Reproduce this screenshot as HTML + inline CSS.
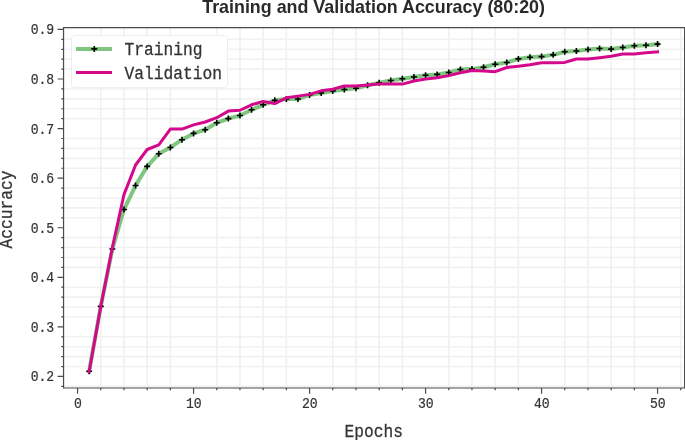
<!DOCTYPE html><html><head><meta charset="utf-8"><style>html,body{margin:0;padding:0;background:#fff;width:685px;height:440px;overflow:hidden}svg{display:block;will-change:transform}.mono{font-family:"Liberation Mono",monospace}.sans{font-family:"Liberation Sans",sans-serif}</style></head><body>
<svg width="685" height="440" viewBox="0 0 685 440">
<rect width="685" height="440" fill="#fff"/>
<path d="M63.55 386.36H684.60M63.55 366.53H684.60M63.55 356.62H684.60M63.55 346.70H684.60M63.55 336.79H684.60M63.55 316.96H684.60M63.55 307.05H684.60M63.55 297.13H684.60M63.55 287.22H684.60M63.55 267.39H684.60M63.55 257.48H684.60M63.55 247.56H684.60M63.55 237.65H684.60M63.55 217.82H684.60M63.55 207.91H684.60M63.55 197.99H684.60M63.55 188.08H684.60M63.55 168.25H684.60M63.55 158.33H684.60M63.55 148.42H684.60M63.55 138.51H684.60M63.55 118.68H684.60M63.55 108.76H684.60M63.55 98.85H684.60M63.55 88.94H684.60M63.55 69.11H684.60M63.55 59.19H684.60M63.55 49.28H684.60M63.55 39.36H684.60M100.77 27.60V388.00M123.97 27.60V388.00M147.17 27.60V388.00M170.37 27.60V388.00M216.77 27.60V388.00M239.97 27.60V388.00M263.17 27.60V388.00M286.37 27.60V388.00M332.77 27.60V388.00M355.97 27.60V388.00M379.17 27.60V388.00M402.37 27.60V388.00M448.77 27.60V388.00M471.97 27.60V388.00M495.17 27.60V388.00M518.37 27.60V388.00M564.77 27.60V388.00M587.97 27.60V388.00M611.17 27.60V388.00M634.37 27.60V388.00M680.77 27.60V388.00" fill="none" stroke="#f1f1f1" stroke-width="1.6"/>
<polyline points="89.17,371.19 100.77,306.40 112.37,248.95 123.97,209.54 135.57,185.55 147.17,166.41 158.77,153.82 170.37,147.48 181.97,139.70 193.57,133.40 205.17,129.68 216.77,122.79 228.37,118.58 239.97,115.51 251.57,109.80 263.17,104.80 274.77,100.34 286.37,99.00 297.97,99.00 309.57,94.98 321.17,93.05 332.77,90.92 344.37,89.43 355.97,88.29 367.57,85.37 379.17,82.69 390.77,80.46 402.37,78.77 413.97,77.04 425.57,75.20 437.17,74.41 448.77,72.48 460.37,69.45 471.97,69.11 483.57,67.22 495.17,64.30 506.77,62.46 518.37,58.90 529.97,57.21 541.57,56.61 553.17,54.83 564.77,51.81 576.37,51.01 587.97,49.48 599.57,48.49 611.17,49.08 622.77,47.49 634.37,45.71 645.97,45.21 657.57,44.12" fill="none" stroke="#80c680" stroke-width="4" stroke-linejoin="round" stroke-linecap="square"/>
<path d="M86.17 371.19h6M89.17 368.19v6M97.77 306.40h6M100.77 303.40v6M109.37 248.95h6M112.37 245.95v6M120.97 209.54h6M123.97 206.54v6M132.57 185.55h6M135.57 182.55v6M144.17 166.41h6M147.17 163.41v6M155.77 153.82h6M158.77 150.82v6M167.37 147.48h6M170.37 144.48v6M178.97 139.70h6M181.97 136.70v6M190.57 133.40h6M193.57 130.40v6M202.17 129.68h6M205.17 126.68v6M213.77 122.79h6M216.77 119.79v6M225.37 118.58h6M228.37 115.58v6M236.97 115.51h6M239.97 112.51v6M248.57 109.80h6M251.57 106.80v6M260.17 104.80h6M263.17 101.80v6M271.77 100.34h6M274.77 97.34v6M283.37 99.00h6M286.37 96.00v6M294.97 99.00h6M297.97 96.00v6M306.57 94.98h6M309.57 91.98v6M318.17 93.05h6M321.17 90.05v6M329.77 90.92h6M332.77 87.92v6M341.37 89.43h6M344.37 86.43v6M352.97 88.29h6M355.97 85.29v6M364.57 85.37h6M367.57 82.37v6M376.17 82.69h6M379.17 79.69v6M387.77 80.46h6M390.77 77.46v6M399.37 78.77h6M402.37 75.77v6M410.97 77.04h6M413.97 74.04v6M422.57 75.20h6M425.57 72.20v6M434.17 74.41h6M437.17 71.41v6M445.77 72.48h6M448.77 69.48v6M457.37 69.45h6M460.37 66.45v6M468.97 69.11h6M471.97 66.11v6M480.57 67.22h6M483.57 64.22v6M492.17 64.30h6M495.17 61.30v6M503.77 62.46h6M506.77 59.46v6M515.37 58.90h6M518.37 55.90v6M526.97 57.21h6M529.97 54.21v6M538.57 56.61h6M541.57 53.61v6M550.17 54.83h6M553.17 51.83v6M561.77 51.81h6M564.77 48.81v6M573.37 51.01h6M576.37 48.01v6M584.97 49.48h6M587.97 46.48v6M596.57 48.49h6M599.57 45.49v6M608.17 49.08h6M611.17 46.08v6M619.77 47.49h6M622.77 44.49v6M631.37 45.71h6M634.37 42.71v6M642.97 45.21h6M645.97 42.21v6M654.57 44.12h6M657.57 41.12v6" stroke="#000" stroke-width="1.6" fill="none"/>
<polyline points="89.17,371.49 100.77,306.55 112.37,247.56 123.97,194.62 135.57,164.98 147.17,149.51 158.77,144.80 170.37,129.09 181.97,129.09 193.57,124.87 205.17,122.00 216.77,117.69 228.37,111.09 239.97,110.25 251.57,104.80 263.17,101.43 274.77,103.56 286.37,97.81 297.97,96.12 309.57,94.39 321.17,90.82 332.77,89.18 344.37,86.01 355.97,86.01 367.57,85.07 379.17,84.08 390.77,84.08 402.37,84.08 413.97,81.00 425.57,79.02 437.17,77.78 448.77,75.60 460.37,72.82 471.97,70.59 483.57,70.89 495.17,71.68 506.77,67.47 518.37,66.23 529.97,64.79 541.57,62.81 553.17,62.86 564.77,62.41 576.37,58.99 587.97,58.99 599.57,57.71 611.17,56.27 622.77,53.99 634.37,53.99 645.97,52.80 657.57,51.81" fill="none" stroke="#d4088a" stroke-width="3" stroke-linejoin="round" stroke-linecap="square"/>
<rect x="71.5" y="35.6" width="156" height="52" rx="3" ry="3" fill="#fff" stroke="#eeeeee" stroke-width="1"/>
<path d="M76 48.9H112" stroke="#80c680" stroke-width="4"/>
<path d="M91.3 48.9h6M94.3 45.9v6" stroke="#000" stroke-width="1.6"/>
<path d="M76 72.5H112" stroke="#d4088a" stroke-width="3"/>
<g class="mono" fill="#333" stroke="#333" stroke-width="0.25" font-size="16.25px">
<text transform="translate(124.6,55.3) scale(1,1.08)">Training</text>
<text transform="translate(124.6,79.0) scale(1,1.08)">Validation</text>
</g>
<path d="M63.55 27.60V388.00H684.60V27.60Z" fill="none" stroke="#4a4a4a" stroke-width="1.2"/>
<path d="M61.30 386.36H63.55M57.60 376.45H63.55M61.30 366.53H63.55M61.30 356.62H63.55M61.30 346.70H63.55M61.30 336.79H63.55M57.60 326.88H63.55M61.30 316.96H63.55M61.30 307.05H63.55M61.30 297.13H63.55M61.30 287.22H63.55M57.60 277.31H63.55M61.30 267.39H63.55M61.30 257.48H63.55M61.30 247.56H63.55M61.30 237.65H63.55M57.60 227.73H63.55M61.30 217.82H63.55M61.30 207.91H63.55M61.30 197.99H63.55M61.30 188.08H63.55M57.60 178.16H63.55M61.30 168.25H63.55M61.30 158.33H63.55M61.30 148.42H63.55M61.30 138.51H63.55M57.60 128.59H63.55M61.30 118.68H63.55M61.30 108.76H63.55M61.30 98.85H63.55M61.30 88.94H63.55M57.60 79.02H63.55M61.30 69.11H63.55M61.30 59.19H63.55M61.30 49.28H63.55M61.30 39.36H63.55M57.60 29.45H63.55M77.57 388.00V393.80M100.77 388.00V390.20M123.97 388.00V390.20M147.17 388.00V390.20M170.37 388.00V390.20M193.57 388.00V393.80M216.77 388.00V390.20M239.97 388.00V390.20M263.17 388.00V390.20M286.37 388.00V390.20M309.57 388.00V393.80M332.77 388.00V390.20M355.97 388.00V390.20M379.17 388.00V390.20M402.37 388.00V390.20M425.57 388.00V393.80M448.77 388.00V390.20M471.97 388.00V390.20M495.17 388.00V390.20M518.37 388.00V390.20M541.57 388.00V393.80M564.77 388.00V390.20M587.97 388.00V390.20M611.17 388.00V390.20M634.37 388.00V390.20M657.57 388.00V393.80M680.77 388.00V390.20" stroke="#4a4a4a" stroke-width="1.2" fill="none"/>
<g class="mono" fill="#333" stroke="#333" stroke-width="0.2" font-size="13.1px">
<text text-anchor="end" transform="translate(54.2,381.45) scale(1,1.07)">0.2</text>
<text text-anchor="end" transform="translate(54.2,331.88) scale(1,1.07)">0.3</text>
<text text-anchor="end" transform="translate(54.2,282.31) scale(1,1.07)">0.4</text>
<text text-anchor="end" transform="translate(54.2,232.73) scale(1,1.07)">0.5</text>
<text text-anchor="end" transform="translate(54.2,183.16) scale(1,1.07)">0.6</text>
<text text-anchor="end" transform="translate(54.2,133.59) scale(1,1.07)">0.7</text>
<text text-anchor="end" transform="translate(54.2,84.02) scale(1,1.07)">0.8</text>
<text text-anchor="end" transform="translate(54.2,34.45) scale(1,1.07)">0.9</text>
<text text-anchor="middle" transform="translate(77.87,407.5) scale(1,1.09)">0</text>
<text text-anchor="middle" transform="translate(193.87,407.5) scale(1,1.09)">10</text>
<text text-anchor="middle" transform="translate(309.87,407.5) scale(1,1.09)">20</text>
<text text-anchor="middle" transform="translate(425.87,407.5) scale(1,1.09)">30</text>
<text text-anchor="middle" transform="translate(541.87,407.5) scale(1,1.09)">40</text>
<text text-anchor="middle" transform="translate(657.87,407.5) scale(1,1.09)">50</text>
</g>
<g class="mono" fill="#333" stroke="#333" stroke-width="0.25" font-size="16.25px">
<text text-anchor="middle" transform="translate(373.7,436.7) scale(1,1.08)">Epochs</text>
<text text-anchor="middle" transform="translate(11.9,209.4) rotate(-90) scale(1,1.08)">Accuracy</text>
</g>
<text class="sans" font-weight="bold" font-size="17.88px" fill="#2a2a2a" text-anchor="middle" x="373.6" y="13.0">Training and Validation Accuracy (80:20)</text>
</svg></body></html>
